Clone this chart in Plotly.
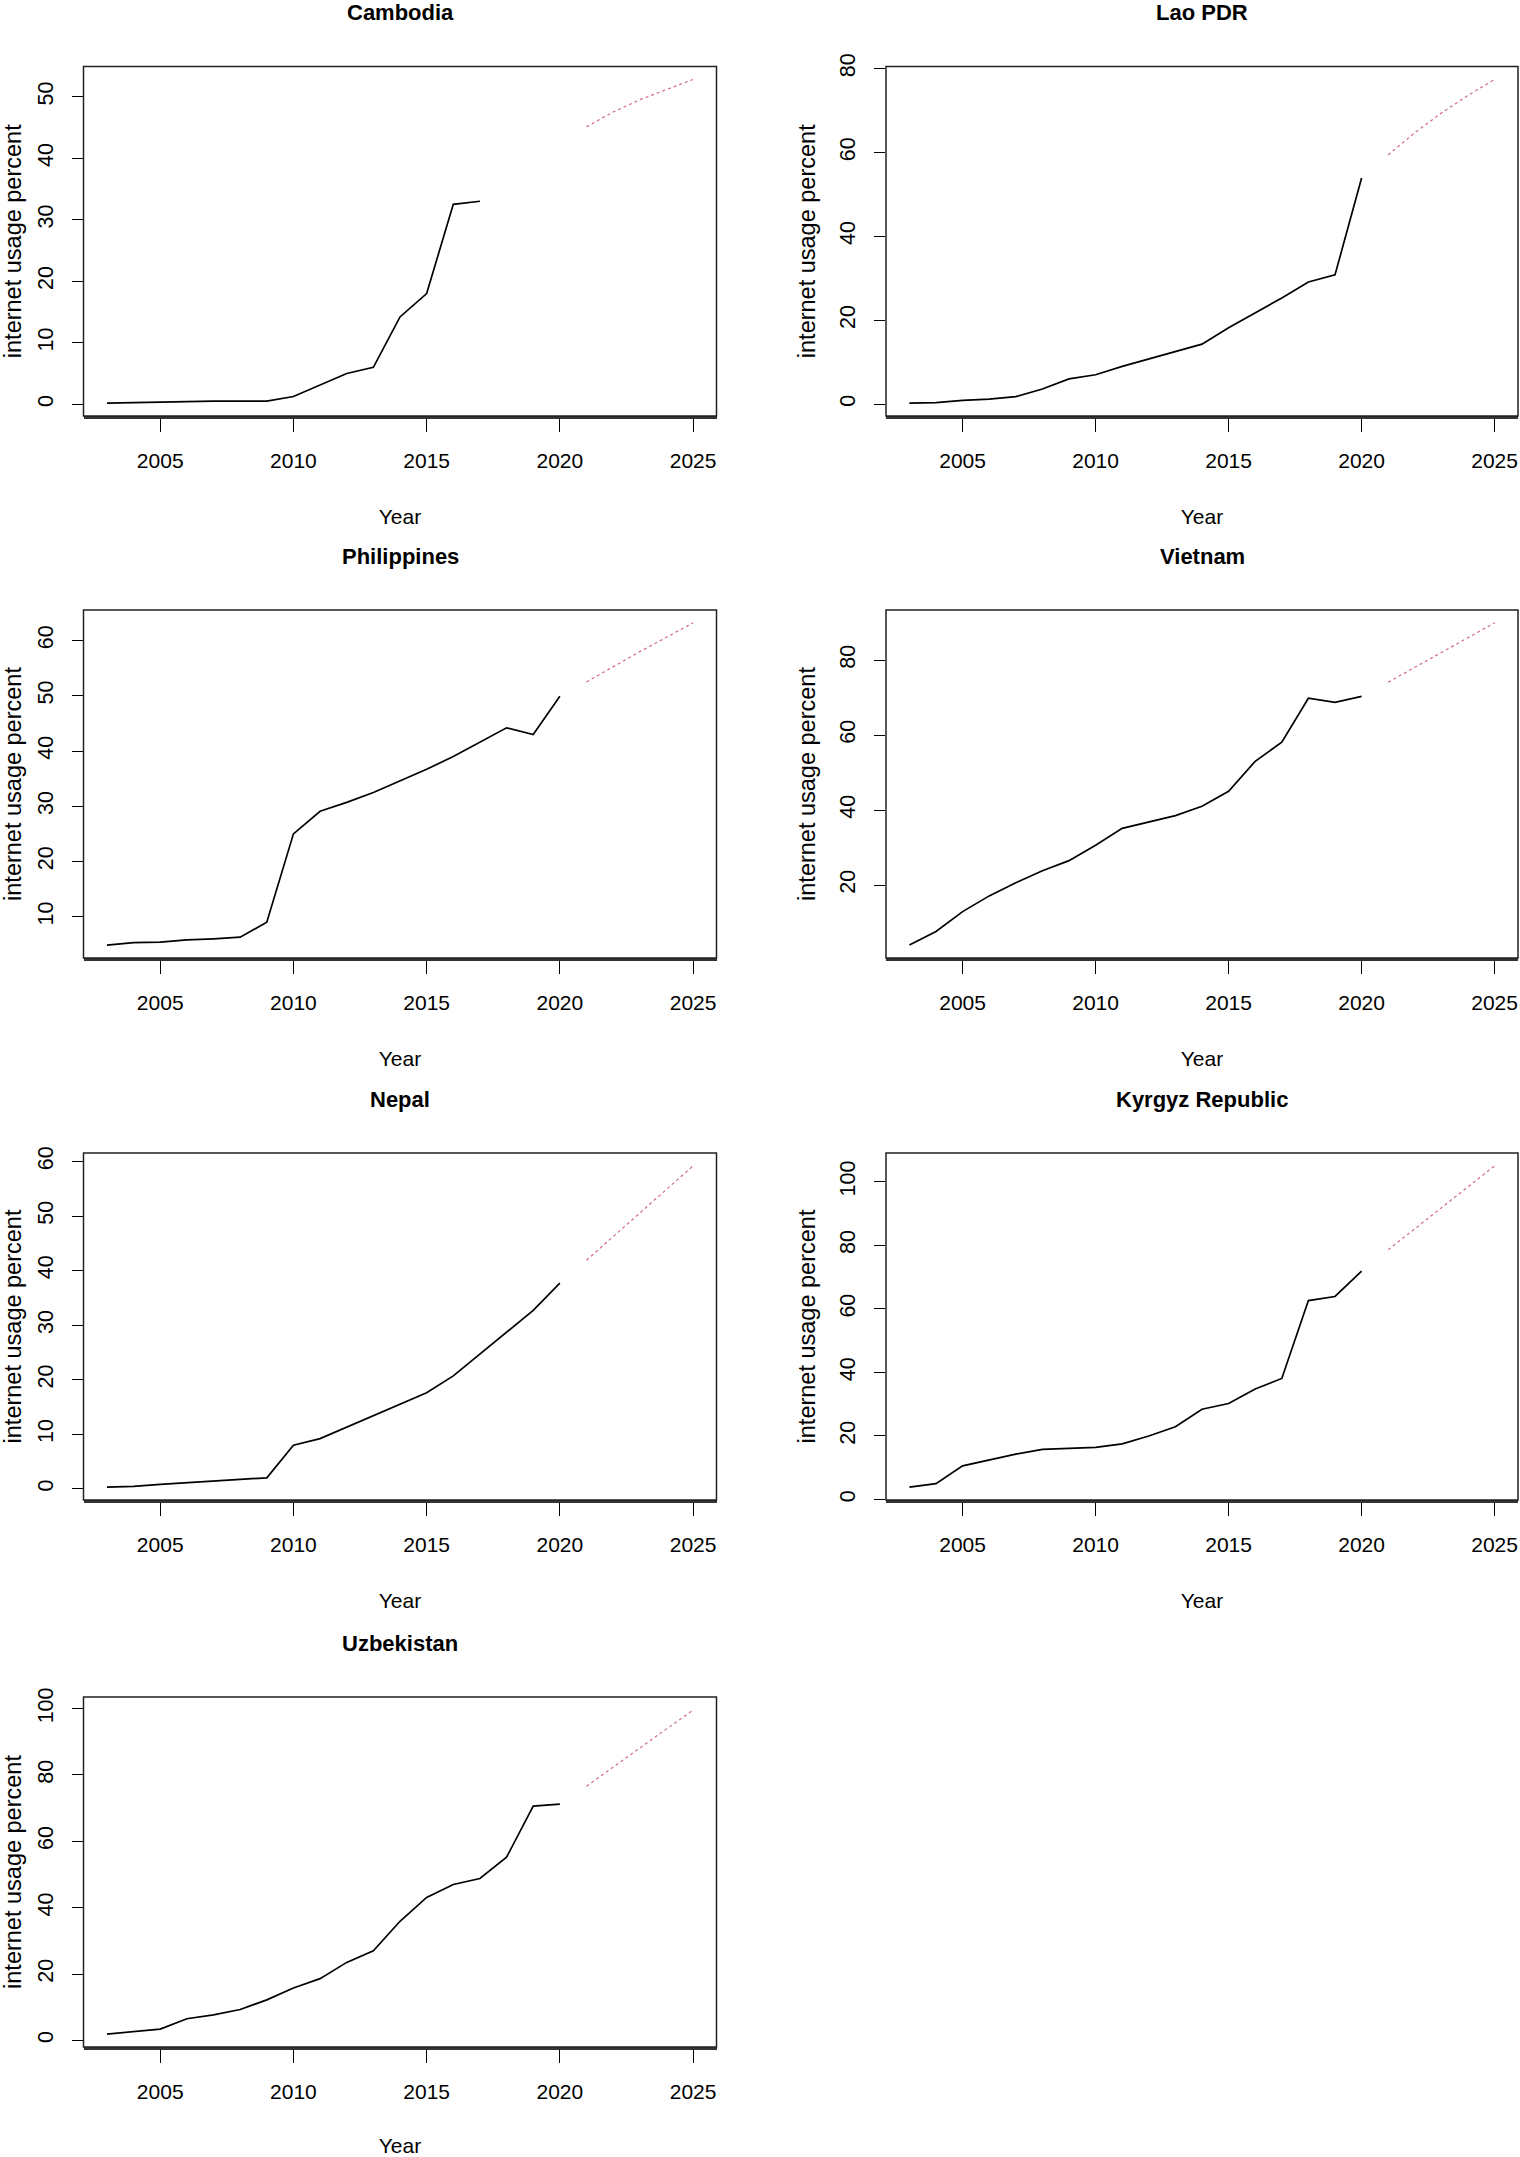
import plotly.graph_objects as go

years = list(range(2003, 2021))
forecast_years = [2021, 2022, 2023, 2024, 2025]

countries = ["Cambodia", "Lao PDR", "Philippines", "Vietnam", "Nepal", "Kyrgyz Republic", "Uzbekistan"]

cambodia_years = list(range(2003, 2018))
cambodia = [0.2, 0.3, 0.3, 0.5, 0.5, 0.51, 0.53, 1.26, 3.1, 5.0, 6.0, 14.2, 18.0, 32.5, 33.0]
cambodia_fc = [45.1, 47.5, 49.5, 51.2, 52.8]

lao = [0.25, 0.33, 0.9, 1.2, 1.78, 3.6, 6.0, 7.0, 9.0, 10.8, 12.5, 14.3, 18.2, 21.7, 25.3, 29.1, 30.8, 53.9]
lao_fc = [59.4, 64.7, 69.4, 73.6, 77.4]

philippines = [4.86, 5.3, 5.4, 5.8, 6.0, 6.3, 9.0, 25.0, 29.1, 30.7, 32.5, 34.6, 36.7, 39.0, 41.6, 44.2, 43.0, 49.9]
philippines_fc = [52.5, 55.3, 58.0, 60.6, 63.2]

vietnam = [3.97, 7.6, 12.9, 17.1, 20.6, 23.8, 26.5, 30.6, 35.1, 36.8, 38.5, 41.0, 45.0, 53.0, 58.1, 69.8, 68.7, 70.3]
vietnam_fc = [74.1, 78.1, 82.0, 86.0, 89.9]

nepal = [0.3, 0.45, 0.8, 1.14, 1.41, 1.73, 2.0, 8.0, 9.2, 11.3, 13.3, 15.5, 17.6, 20.7, 24.7, 28.6, 32.7, 37.7]
nepal_fc = [41.9, 46.2, 50.5, 54.9, 59.2]

kyrgyz = [3.9, 5.0, 10.6, 12.5, 14.3, 15.8, 16.1, 16.4, 17.5, 20.0, 22.9, 28.4, 30.2, 34.8, 38.1, 62.6, 63.9, 71.9]
kyrgyz_fc = [78.6, 85.2, 91.8, 98.4, 105.0]

uzbekistan = [1.9, 2.6, 3.4, 6.5, 7.7, 9.3, 12.2, 15.8, 18.6, 23.5, 27.0, 35.9, 43.1, 47.0, 48.8, 55.2, 70.6, 71.2]
uzbekistan_fc = [76.6, 82.3, 88.1, 93.9, 99.6]

x_ticks = [2005, 2010, 2015, 2020, 2025]
y_ticks = [
    [0, 10, 20, 30, 40, 50],
    [0, 20, 40, 60, 80],
    [10, 20, 30, 40, 50, 60],
    [20, 40, 60, 80],
    [0, 10, 20, 30, 40, 50, 60],
    [0, 20, 40, 60, 80, 100],
    [0, 20, 40, 60, 80, 100],
]

series = [
    (cambodia_years, cambodia, cambodia_fc),
    (years, lao, lao_fc),
    (years, philippines, philippines_fc),
    (years, vietnam, vietnam_fc),
    (years, nepal, nepal_fc),
    (years, kyrgyz, kyrgyz_fc),
    (years, uzbekistan, uzbekistan_fc),
]

W, H = 1520, 2157
col_px = [(83.5, 716.5), (886.0, 1518.0)]
row_px = [(66.5, 416), (610, 958), (1153, 1500), (1697, 2047)]

NARROW = "Liberation Sans Narrow, Arial Narrow, Liberation Sans, Arial, sans-serif"
REG = "Liberation Sans, Arial, Helvetica, sans-serif"

fig = go.Figure()
layout = dict(
    width=W, height=H,
    margin=dict(l=0, r=0, t=0, b=0, autoexpand=False),
    paper_bgcolor="white", plot_bgcolor="white",
    showlegend=False,
)
annotations = []
shapes = []

for i, (name, (xs, ys, fc), yt) in enumerate(zip(countries, series, y_ticks)):
    k = i + 1
    r, c = divmod(i, 2)
    x0p, x1p = col_px[c]
    y0p, y1p = row_px[r]
    xdom = [x0p / W, x1p / W]
    ydom = [1 - y1p / H, 1 - y0p / H]
    xa = "x" if k == 1 else f"x{k}"
    ya = "y" if k == 1 else f"y{k}"

    fig.add_trace(go.Scatter(x=xs, y=ys, mode="lines", xaxis=xa, yaxis=ya,
                             line=dict(color="black", width=1.7), hoverinfo="skip"))
    fig.add_trace(go.Scatter(x=forecast_years, y=fc, mode="lines", xaxis=xa, yaxis=ya,
                             line=dict(color="#d06a88", width=1.2, dash="dot"), hoverinfo="skip"))

    allx = list(xs) + forecast_years
    ally = list(ys) + list(fc)
    xr = max(allx) - min(allx)
    yr = max(ally) - min(ally)
    xrange = [min(allx) - 0.04 * xr, max(allx) + 0.04 * xr]
    yrange = [min(ally) - 0.04 * yr, max(ally) + 0.04 * yr]

    layout[f"xaxis{k}"] = dict(
        domain=xdom, anchor=ya, range=xrange, tickvals=x_ticks, automargin=False,
        ticktext=[str(t) for t in x_ticks],
        ticks="outside", ticklen=13, tickwidth=1.2, tickcolor="black",
        showgrid=False, zeroline=False, showline=True, linecolor="#333", linewidth=2.5,
        tickfont=dict(family=NARROW, size=21, color="black"),
        ticklabelstandoff=11,
        title=dict(text="Year", font=dict(family=NARROW, size=21, color="black"), standoff=39),
    )
    layout[f"yaxis{k}"] = dict(
        domain=ydom, anchor=xa, range=yrange, tickvals=yt, automargin=False,
        ticktext=[str(t) for t in yt],
        ticks="outside", ticklen=11, tickwidth=1.2, tickcolor="black",
        showgrid=False, zeroline=False, showline=False,
        tickangle=-90,
        tickfont=dict(family=REG, size=21.5, color="black"),
        ticklabelstandoff=10,
        title=dict(text="internet usage percent", font=dict(family=REG, size=23.5, color="black"), standoff=14),
    )
    shapes.append(dict(type="rect", xref=f"{xa} domain", yref=f"{ya} domain",
                       x0=0, x1=1, y0=0, y1=1, line=dict(color="#222", width=1.5),
                       fillcolor="rgba(0,0,0,0)", layer="above"))
    annotations.append(dict(text=f"<b>{name}</b>", xref="paper", yref="paper",
                            x=(xdom[0] + xdom[1]) / 2, y=1 - (y0p - 54) / H,
                            xanchor="center", yanchor="middle", showarrow=False,
                            font=dict(family=NARROW, size=22, color="black")))

layout["annotations"] = annotations
layout["shapes"] = shapes
fig.update_layout(**layout)
fig.write_html("out.html", config={"displayModeBar": False},
               post_script="document.body.style.margin='0';document.body.style.overflow='hidden';")
